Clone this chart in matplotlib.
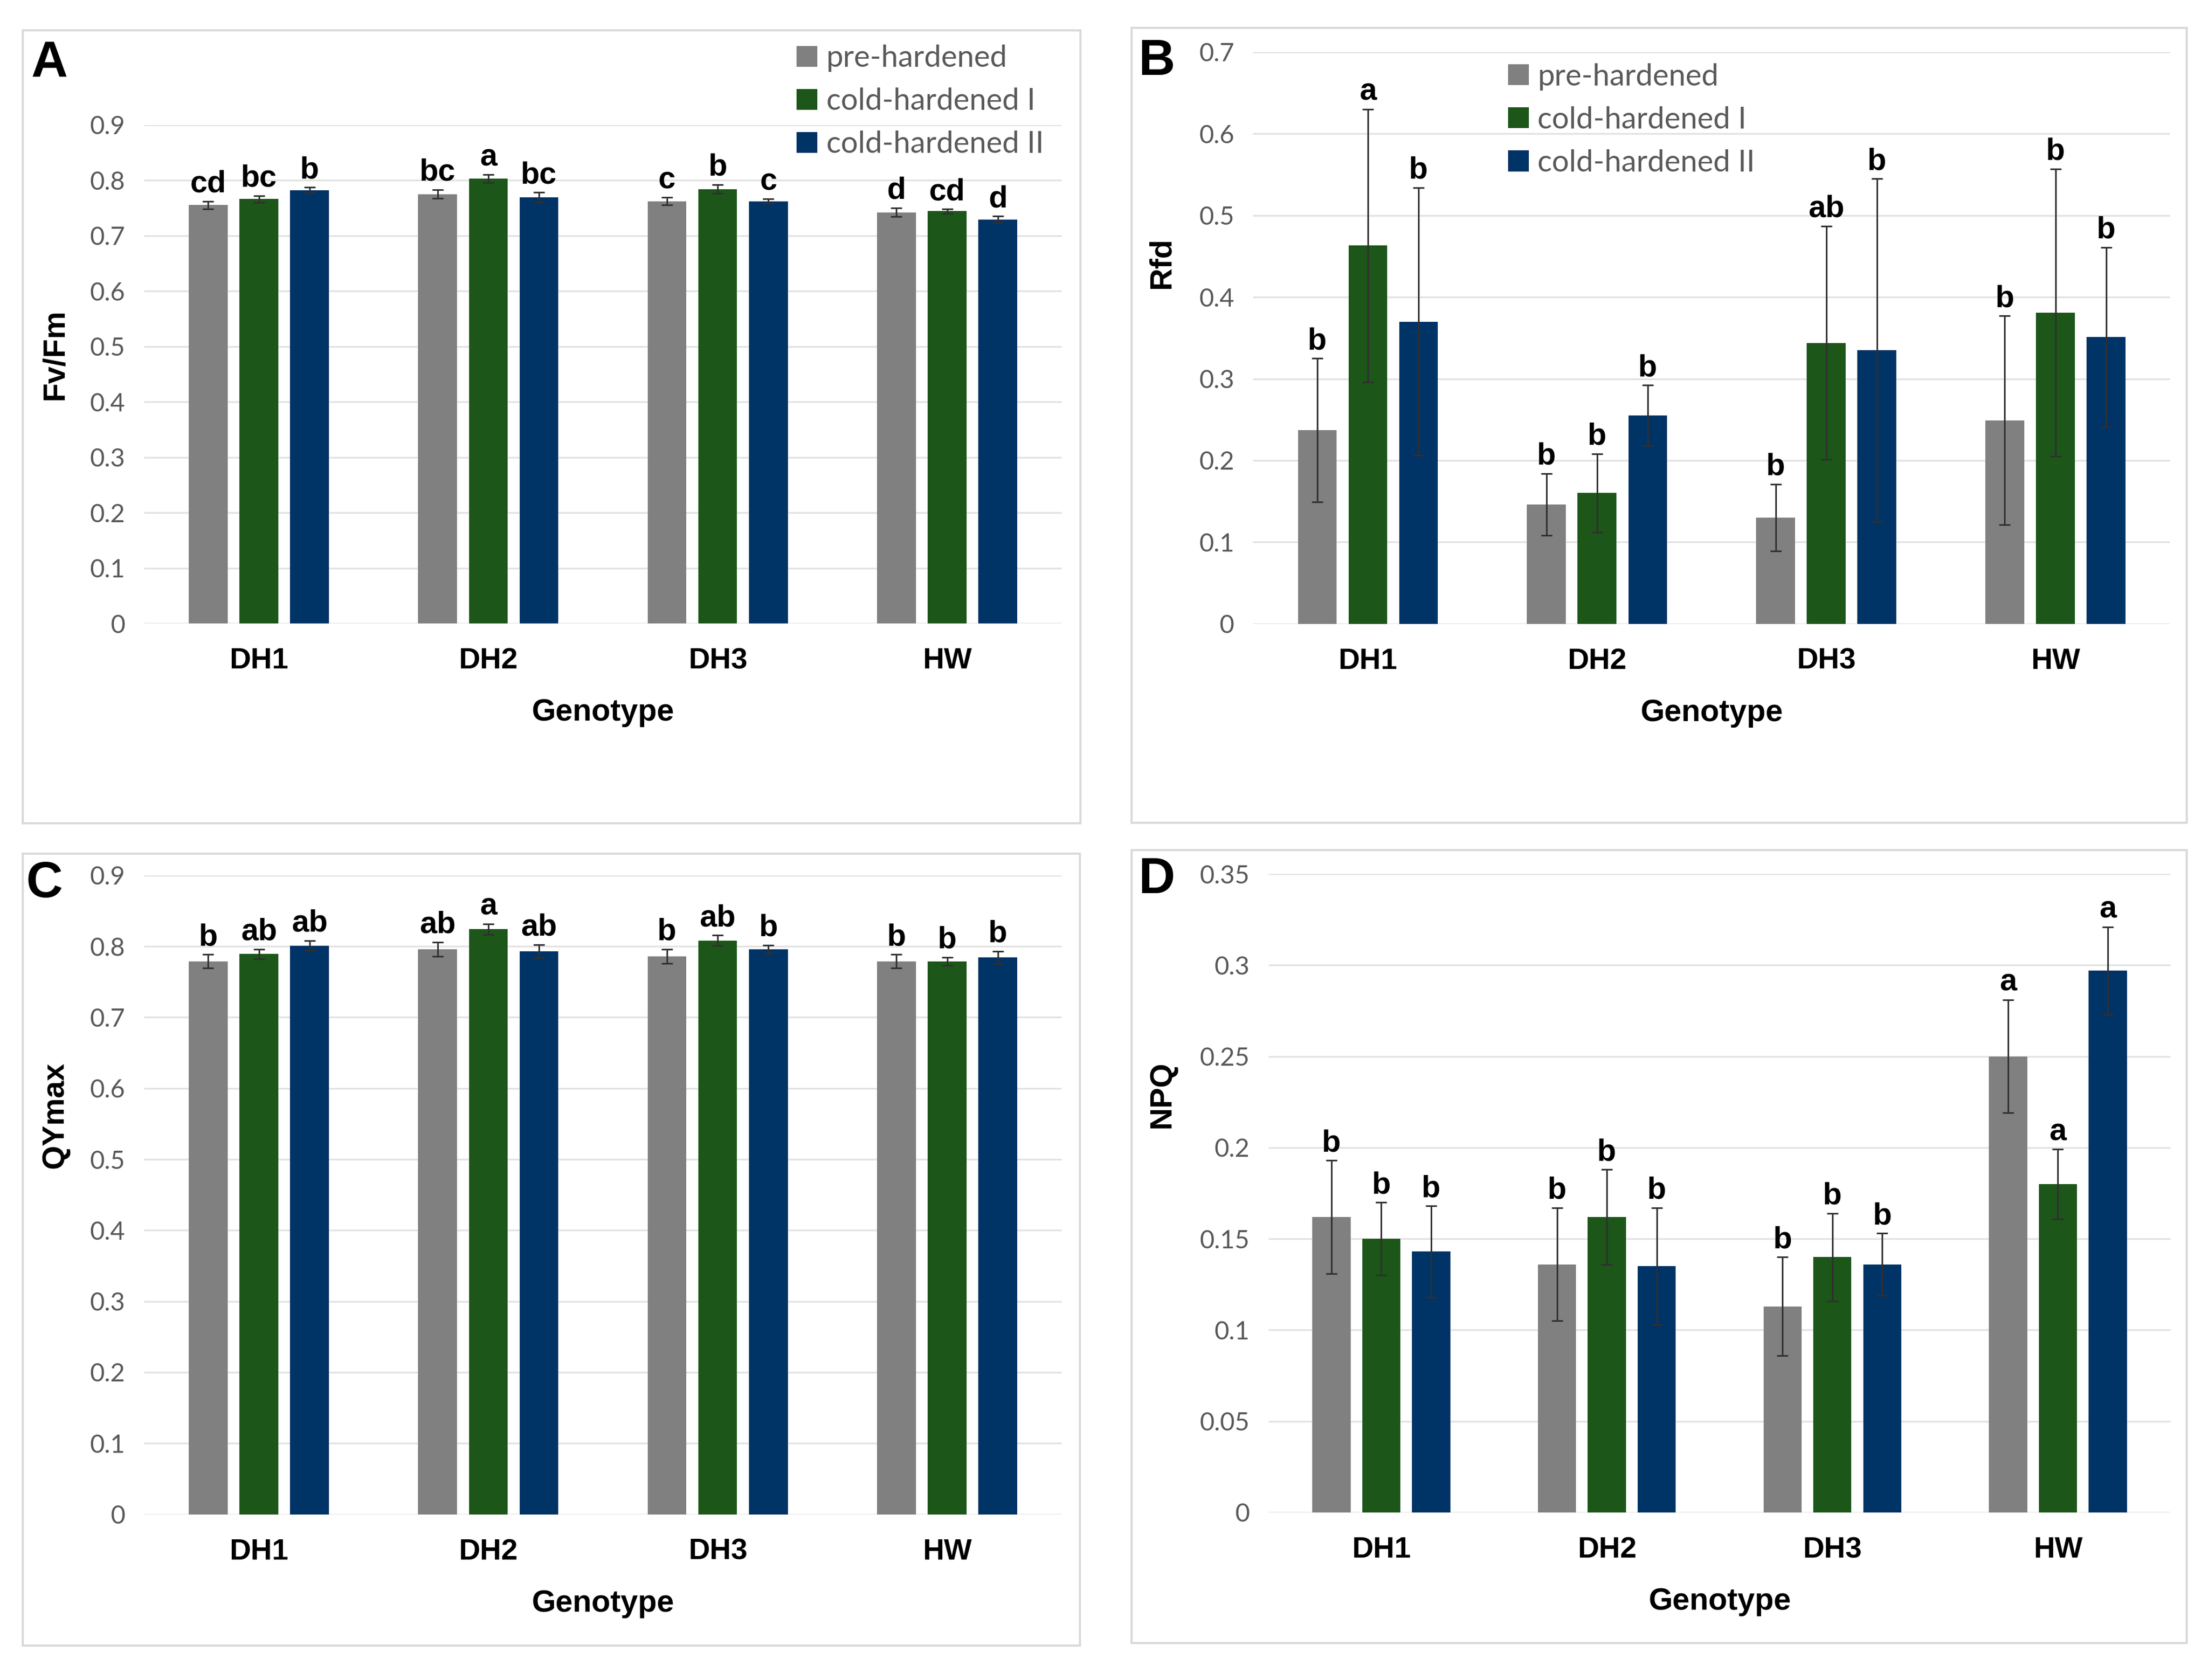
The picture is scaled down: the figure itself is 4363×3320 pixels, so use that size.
import matplotlib
matplotlib.use("Agg")
import matplotlib.pyplot as plt
from matplotlib.patches import Rectangle, Patch
import numpy as np

# ---------------- data ----------------
categories = ["DH1", "DH2", "DH3", "HW"]
series = ["pre-hardened", "cold-hardened I", "cold-hardened II"]
colors = ["#808080", "#1c5619", "#003366"]

# A: Fv/Fm
fvfm_pre = [0.755, 0.775, 0.762, 0.742]
fvfm_c1 = [0.766, 0.803, 0.784, 0.744]
fvfm_c2 = [0.782, 0.769, 0.762, 0.729]
fvfm_pre_err = [0.007, 0.008, 0.007, 0.008]
fvfm_c1_err = [0.006, 0.007, 0.008, 0.004]
fvfm_c2_err = [0.005, 0.009, 0.004, 0.006]
fvfm_letters = [["cd", "bc", "c", "d"], ["bc", "a", "b", "cd"], ["b", "bc", "c", "d"]]

# B: Rfd
rfd_pre = [0.237, 0.146, 0.130, 0.249]
rfd_c1 = [0.463, 0.160, 0.344, 0.381]
rfd_c2 = [0.370, 0.255, 0.335, 0.351]
rfd_pre_err = [0.088, 0.038, 0.041, 0.128]
rfd_c1_err = [0.167, 0.048, 0.143, 0.176]
rfd_c2_err = [0.164, 0.037, 0.210, 0.110]
rfd_letters = [["b", "b", "b", "b"], ["a", "b", "ab", "b"], ["b", "b", "b", "b"]]

# C: QYmax
qy_pre = [0.779, 0.796, 0.786, 0.779]
qy_c1 = [0.789, 0.824, 0.808, 0.779]
qy_c2 = [0.801, 0.793, 0.796, 0.784]
qy_pre_err = [0.0095, 0.010, 0.010, 0.0095]
qy_c1_err = [0.007, 0.0076, 0.0076, 0.0057]
qy_c2_err = [0.007, 0.0095, 0.0057, 0.009]
qy_letters = [["b", "ab", "b", "b"], ["ab", "a", "ab", "b"], ["ab", "ab", "b", "b"]]

# D: NPQ
npq_pre = [0.162, 0.136, 0.113, 0.250]
npq_c1 = [0.150, 0.162, 0.140, 0.180]
npq_c2 = [0.143, 0.135, 0.136, 0.297]
npq_pre_err = [0.031, 0.031, 0.027, 0.031]
npq_c1_err = [0.020, 0.026, 0.024, 0.019]
npq_c2_err = [0.025, 0.032, 0.017, 0.024]
npq_letters = [["b", "b", "b", "a"], ["b", "b", "b", "a"], ["b", "b", "b", "a"]]

fvfm_ticks = [0, 0.1, 0.2, 0.3, 0.4, 0.5, 0.6, 0.7, 0.8, 0.9]
rfd_ticks = [0, 0.1, 0.2, 0.3, 0.4, 0.5, 0.6, 0.7]
qy_ticks = [0, 0.1, 0.2, 0.3, 0.4, 0.5, 0.6, 0.7, 0.8, 0.9]
npq_ticks = [0, 0.05, 0.1, 0.15, 0.2, 0.25, 0.3, 0.35]

# ---------------- style ----------------
from matplotlib import font_manager
avail = {f.name for f in font_manager.fontManager.ttflist}
TICKFONT = "Lato" if "Lato" in avail else "DejaVu Sans"
BOLDFONT = "Liberation Sans" if "Liberation Sans" in avail else "DejaVu Sans"

W, H = 4363, 3320
fig = plt.figure(figsize=(W / 100, H / 100), dpi=100)

# panel frames (display coords of a 1568x1190 layout -> fractions)
DW, DH = 1568.0, 1190.0
def frame(x0, y0, x1, y1):
    r = Rectangle((x0 / DW, 1 - y1 / DH), (x1 - x0) / DW, (y1 - y0) / DH,
                  transform=fig.transFigure, fill=False, edgecolor="#d9d9d9",
                  linewidth=3, zorder=0)
    fig.patches.append(r)

frame(16, 21.6, 767.3, 583)
frame(803.5, 19.7, 1553, 582.8)
frame(16, 604.8, 767, 1165.8)
frame(803.5, 602, 1553, 1163.8)

pitch = 0.221
bw = 0.169
x = np.arange(len(categories))


def panel(rect, means, errs, letters, ticks, ylabel, ylab_pos, letter, letter_pos,
          legend_anchor=None):
    ax = fig.add_axes(rect)
    ax.set_axisbelow(True)
    for i in range(3):
        xs = x + (i - 1) * pitch
        ax.bar(xs, means[i], width=bw, color=colors[i], edgecolor="none",
               label=series[i], zorder=2)
        ax.errorbar(xs, means[i], yerr=errs[i], fmt="none", ecolor="#303030",
                    elinewidth=2.3, capsize=8, capthick=2.3, zorder=3)
        for j in range(len(categories)):
            ax.annotate(letters[i][j], xy=(xs[j], means[i][j] + errs[i][j]),
                        xytext=(0, 13), textcoords="offset points",
                        ha="center", va="baseline", fontsize=44,
                        fontweight="bold", family=BOLDFONT, color="black",
                        zorder=4)
    ax.set_xlim(-0.5, len(categories) - 0.5)
    ax.set_ylim(ticks[0], ticks[-1])
    ax.set_yticks(ticks)
    ax.set_yticklabels([f"{np.round(t, 2):g}" for t in ticks])
    ax.yaxis.grid(True, color="#e2e2e2", linewidth=2.5)
    ax.set_xticks(x)
    ax.set_xticklabels(categories)
    for s in ax.spines.values():
        s.set_visible(False)
    ax.tick_params(axis="y", length=0, pad=27, labelsize=36, labelcolor="#595959")
    ax.tick_params(axis="x", length=0, pad=34, labelsize=42)
    for t in ax.get_yticklabels():
        t.set_family(TICKFONT)
    for t in ax.get_xticklabels():
        t.set_family(BOLDFONT)
        t.set_fontweight("bold")
    ax.set_xlabel("Genotype", fontsize=44, fontweight="bold", family=BOLDFONT,
                  labelpad=34)
    ax.text(ylab_pos[0], ylab_pos[1], ylabel, transform=ax.transAxes,
            rotation=90, ha="center", va="center", fontsize=44,
            fontweight="bold", family=BOLDFONT)
    fig.text(letter_pos[0], letter_pos[1], letter, ha="left", va="baseline",
             fontsize=72, fontweight="bold", family=BOLDFONT)
    if legend_anchor is not None:
        handles = [Patch(facecolor=c, edgecolor="none") for c in colors]
        leg = ax.legend(handles, series, loc="upper left",
                        bbox_to_anchor=legend_anchor,
                        bbox_transform=fig.transFigure, frameon=False,
                        prop={"family": TICKFONT, "size": 43},
                        handlelength=0.68, handleheight=0.68,
                        handletextpad=0.3, labelspacing=0.52,
                        borderpad=0, borderaxespad=0)
        for t in leg.get_texts():
            t.set_color("#595959")
    return ax


# A
panel([0.0653, 0.6289, 0.4156, 0.2968],
      [fvfm_pre, fvfm_c1, fvfm_c2], [fvfm_pre_err, fvfm_c1_err, fvfm_c2_err],
      fvfm_letters, fvfm_ticks, "Fv/Fm", (-0.097, 0.54), "A", (0.0142, 0.954),
      legend_anchor=(0.3608, 0.9735))
# B
panel([0.5676, 0.6287, 0.4152, 0.3403],
      [rfd_pre, rfd_c1, rfd_c2], [rfd_pre_err, rfd_c1_err, rfd_c2_err],
      rfd_letters, rfd_ticks, "Rfd", (-0.0998, 0.632), "B", (0.5156, 0.9554),
      legend_anchor=(0.683, 0.9624))
# C
panel([0.0653, 0.0986, 0.4156, 0.3804],
      [qy_pre, qy_c1, qy_c2], [qy_pre_err, qy_c1_err, qy_c2_err],
      qy_letters, qy_ticks, "QYmax", (-0.097, 0.6245), "C", (0.0118, 0.466))
# D
panel([0.5745, 0.0997, 0.4086, 0.3801],
      [npq_pre, npq_c1, npq_c2], [npq_pre_err, npq_c1_err, npq_c2_err],
      npq_letters, npq_ticks, "NPQ", (-0.118, 0.655), "D", (0.5156, 0.4684))

fig.savefig("out.png", dpi=100, facecolor="white")
